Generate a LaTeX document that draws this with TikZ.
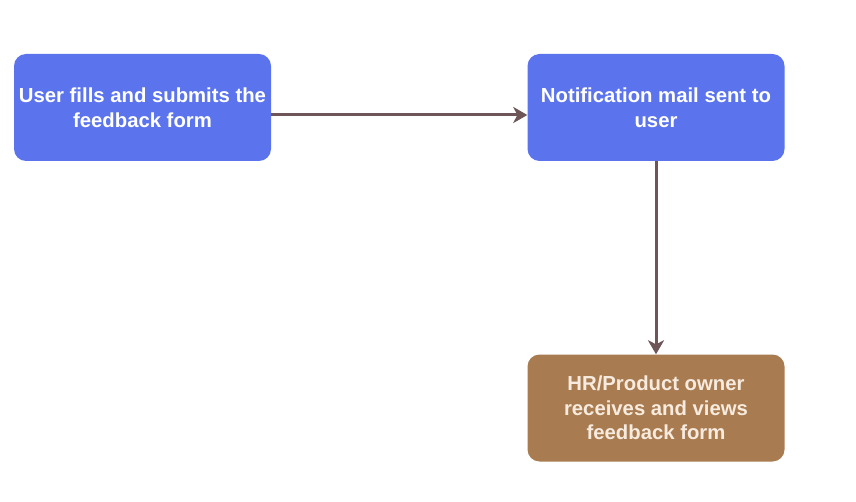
\documentclass[tikz,border=0pt]{standalone}
\usepackage{fontspec}
\setmainfont{Liberation Sans}
\usetikzlibrary{arrows.meta}
\definecolor{boxblue}{HTML}{5B74EE}
\definecolor{boxbrown}{HTML}{A97B50}
\definecolor{arrowcol}{HTML}{6E5558}
\definecolor{creamtext}{HTML}{F7EBDF}
\tikzset{
  procbox/.style={rounded corners=12pt, minimum width=257pt, minimum height=107pt,
    inner sep=2pt, align=center, font=\bfseries\fontsize{20.3}{24.5}\selectfont},
  bluebox/.style={procbox, fill=boxblue, text=white},
  brownbox/.style={procbox, fill=boxbrown, text=creamtext},
  flow/.style={draw=arrowcol, line width=3pt, -{Stealth[length=14pt,width=16pt,inset=4pt]}}
}
\begin{document}
\begin{tikzpicture}[x=1pt,y=-1pt]
\useasboundingbox[fill=white] (0,0) rectangle (856,502);
\node[bluebox] (a) at (142.5,107.5) {User fills and submits the\\feedback form};
\node[bluebox] (b) at (656,107.5) {Notification mail sent to\\user};
\node[brownbox] (c) at (656,408) {HR/Product owner\\receives and views\\feedback form};
\draw[flow] ([yshift=-7.5pt]a.east) -- ([yshift=-7.5pt]b.west);
\draw[flow] (b.south) -- (c.north);
\end{tikzpicture}
\end{document}
